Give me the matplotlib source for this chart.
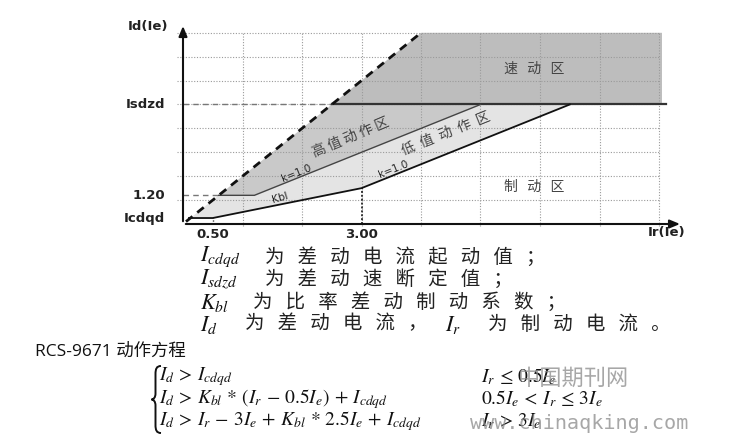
import matplotlib
matplotlib.use("Agg")
import matplotlib.pyplot as plt
from matplotlib.patches import Polygon, PathPatch
from matplotlib.path import Path

plt.rcParams['font.family'] = ['Noto Sans CJK SC', 'DejaVu Sans']
plt.rcParams['mathtext.fontset'] = 'stix'

# ---- characteristic values (in Ie) ----
ir_breaks = [0.5, 3.0]          # break points of the Kbl curve
icdqd = 0.25                    # pickup current
isdzd = 5.0                     # instantaneous setting
kbl = 0.5                       # ratio restraint coefficient
k_high = 1.0                    # slope after 3 Ie
high_level = 1.2                # high-value pickup level
high_break = 1.2                # start of high-value slope
diag_slope = 2.0                # dashed boundary slope
x_max, y_max = 8.0, 8.0

y_tick_vals = [isdzd, high_level, icdqd]
y_tick_labels = ['Isdzd', '1.20', 'Icdqd']
x_tick_vals = [0.5, 3.0]
x_tick_labels = ['0.50', '3.00']

legend_lines = [
    (r'$I_{cdqd}$', '为差动电流起动值；'),
    (r'$I_{sdzd}$', '为差动速断定值；'),
    (r'$K_{bl}$', '为比率差动制动系数；'),
]
eq_left = [r'$I_d\,>\,I_{cdqd}$',
           r'$I_d\,>\,K_{bl}\,*\,(I_r\,-\,0.5I_e)\,+\,I_{cdqd}$',
           r'$I_d\,>\,I_r\,-\,3I_e\,+\,K_{bl}\,*\,2.5I_e\,+\,I_{cdqd}$']
eq_right = [r'$I_r\,\leq\,0.5I_e$',
            r'$0.5I_e\,<\,I_r\,\leq\,3I_e$',
            r'$I_r\,>\,3I_e$']

W, H = 743, 436
fig = plt.figure(figsize=(W / 100, H / 100), dpi=100)
px_x, px_y = 59.5, 23.9
x0_px, y0_px = 183, 224
xl, yl = 8.4, 8.4
ax = fig.add_axes([x0_px / W, (H - y0_px) / H, xl * px_x / W, yl * px_y / H])
ax.set_xlim(0, xl)
ax.set_ylim(0, yl)
ax.set_axis_off()

def sp(s, n=3):
    return (' ' * n).join(s)

# derived points
x_lo_end = ir_breaks[1] + (isdzd - (icdqd + kbl * (ir_breaks[1] - ir_breaks[0]))) / k_high
y_b = icdqd + kbl * (ir_breaks[1] - ir_breaks[0])
x_diag_top = y_max / diag_slope
x_diag_sd = isdzd / diag_slope
x_diag_hl = high_level / diag_slope
x_diag_cd = icdqd / diag_slope
x_hi_end = isdzd  # slope 1 through origin
xr = x_max + 0.05

# fills
ax.add_patch(Polygon([(x_diag_sd, isdzd), (x_diag_top, y_max), (xr, y_max), (xr, isdzd)],
                     closed=True, fc='#bdbdbd', ec='none', zorder=1))
ax.add_patch(Polygon([(x_diag_hl, high_level), (high_break, high_level), (x_hi_end, isdzd),
                      (x_diag_sd, isdzd)], closed=True, fc='#c9c9c9', ec='none', zorder=1))
ax.add_patch(Polygon([(x_diag_cd, icdqd), (x_diag_hl, high_level), (high_break, high_level),
                      (x_hi_end, isdzd), (x_lo_end, isdzd), (ir_breaks[1], y_b),
                      (ir_breaks[0], icdqd)], closed=True, fc='#e4e4e4', ec='none', zorder=1))

# grid
for gx in range(1, int(x_max) + 1):
    ax.plot([gx, gx], [-0.1, y_max], color='#9a9a9a', lw=0.8, ls=(0, (1, 1.5)), zorder=2, clip_on=False)
for gy in range(1, int(y_max) + 1):
    ax.plot([-0.1, x_max], [gy, gy], color='#9a9a9a', lw=0.8, ls=(0, (1, 1.5)), zorder=2, clip_on=False)

# reference dashed lines
ax.plot([0, x_diag_sd], [isdzd, isdzd], color='#777777', lw=1.0, ls=(0, (4, 3)), zorder=3)
ax.plot([0, x_diag_hl], [high_level, high_level], color='#777777', lw=1.0, ls=(0, (4, 3)), zorder=3)
ax.plot([ir_breaks[0], ir_breaks[0]], [0, icdqd], color='#444444', lw=1.0, ls=(0, (1, 1)), zorder=3)
ax.plot([ir_breaks[1], ir_breaks[1]], [0, y_b], color='#333333', lw=1.4, ls=(0, (1, 1)), zorder=3)

# characteristic lines
ax.plot([x_diag_sd, x_max + 0.12], [isdzd, isdzd], color='#333333', lw=1.6, zorder=4)
ax.plot([x_diag_hl, high_break, x_hi_end], [high_level, high_level, isdzd], color='#444444', lw=1.0, zorder=4)
ax.plot([0.1, ir_breaks[0], ir_breaks[1], x_lo_end], [icdqd, icdqd, y_b, isdzd],
        color='#111111', lw=1.3, zorder=4)
ax.plot([0.05, x_diag_top], [0.1, y_max], color='#111111', lw=2.0, ls=(0, (3, 2.2)), zorder=5)

# axes with arrows
ax.annotate('', xy=(0, yl), xytext=(0, 0),
            arrowprops=dict(arrowstyle='-|>,head_width=0.25,head_length=0.6', color='#111111', lw=1.5),
            zorder=6)
ax.annotate('', xy=(xl, 0), xytext=(0, 0),
            arrowprops=dict(arrowstyle='-|>,head_width=0.25,head_length=0.6', color='#111111', lw=1.5),
            zorder=6)

lab_kw = dict(fontsize=9.5, color='#222222', family='DejaVu Sans', fontweight='bold')
for v, t in zip(y_tick_vals, y_tick_labels):
    ax.text(-0.3, v, t, ha='right', va='center', **lab_kw)
for v, t in zip(x_tick_vals, x_tick_labels):
    ax.text(v, -0.42, t, ha='center', va='center', **lab_kw)
ax.text(-0.25, 8.28, 'Id(Ie)', ha='right', va='center', **lab_kw)
ax.text(8.12, -0.36, 'Ir(Ie)', ha='center', va='center', **lab_kw)

zone_kw = dict(fontsize=10, color='#444444', ha='center', va='center', zorder=7)
ax.text(5.9, 6.49, sp('速动区', 3), **zone_kw)
ax.text(5.9, 1.55, sp('制动区', 3), **zone_kw)
ax.text(2.82, 3.64, sp('高值动作区', 1), rotation=23, rotation_mode='anchor', **zone_kw)
ax.text(4.42, 3.8, sp('低值动作区', 2), rotation=22, rotation_mode='anchor', **zone_kw)
small_kw = dict(fontsize=7.5, color='#222222', ha='center', va='center', family='DejaVu Sans', zorder=7)
ax.text(1.9, 2.13, 'k=1.0', rotation=22, rotation_mode='anchor', **small_kw)
ax.text(3.53, 2.3, 'k=1.0', rotation=22, rotation_mode='anchor', **small_kw)
ax.text(1.63, 1.09, 'Kbl', rotation=16, rotation_mode='anchor', **small_kw)

# ---- text block below ----
def fx(px):
    return px / W

def fy(py):
    return 1 - py / H

cn_kw = dict(fontsize=14, color='#222222', va='center')
math_kw = dict(fontsize=16, color='#111111', va='center')
rows_y = [257, 279, 302]
cn_x = [265, 265, 253]
for (m, c), yy, cx in zip(legend_lines, rows_y, cn_x):
    fig.text(fx(200), fy(yy), m, **math_kw)
    fig.text(fx(cx), fy(yy), sp(c, 3), **cn_kw)
fig.text(fx(200), fy(324), r'$I_d$', **math_kw)
fig.text(fx(245), fy(324), sp('为差动电流，', 3), **cn_kw)
fig.text(fx(445), fy(324), r'$I_r$', **math_kw)
fig.text(fx(488), fy(324), sp('为制动电流。', 3), **cn_kw)

fig.text(fx(35), fy(352), 'RCS-9671 动作方程', fontsize=12.5, color='#111111', va='center',
         family=['Open Sans', 'Noto Sans CJK SC'])

# curly brace (pixel coordinates converted to figure coords)
bx_tip, bx_mid, bx_end = 151.5, 155.5, 161.0
by_top, by_mid, by_bot = 366.0, 399.5, 433.0
brace_pts = [
    (bx_end, by_top), (bx_mid + 1, by_top), (bx_mid, by_top + 3), (bx_mid, by_top + 8),
    (bx_mid, by_mid - 6),
    (bx_mid, by_mid - 2), (bx_tip + 2, by_mid), (bx_tip, by_mid),
    (bx_tip + 2, by_mid), (bx_mid, by_mid + 2), (bx_mid, by_mid + 6),
    (bx_mid, by_bot - 8),
    (bx_mid, by_bot - 3), (bx_mid + 1, by_bot), (bx_end, by_bot),
]
codes = [Path.MOVETO, Path.CURVE4, Path.CURVE4, Path.CURVE4, Path.LINETO,
         Path.CURVE4, Path.CURVE4, Path.CURVE4, Path.CURVE4, Path.CURVE4, Path.CURVE4,
         Path.LINETO, Path.CURVE4, Path.CURVE4, Path.CURVE4]
brace = Path([(fx(px), fy(py)) for px, py in brace_pts], codes)
fig.patches.append(PathPatch(brace, transform=fig.transFigure, fc='none', ec='#111111', lw=1.4))

eq_y = [377, 399, 421]
for l, r, yy in zip(eq_left, eq_right, eq_y):
    fig.text(fx(159), fy(yy), l, fontsize=14, color='#111111', va='center')
    fig.text(fx(481), fy(yy), r, fontsize=14, color='#111111', va='center')

# watermark
fig.text(fx(518), fy(378), '中国期刊网', fontsize=16, color='#8a8a8a', alpha=0.75, va='center')
fig.text(fx(470), fy(423), 'www.chinaqking.com', fontsize=14.5, color='#8a8a8a', alpha=0.75,
         va='center', family='DejaVu Sans Mono')

fig.savefig('out.png', dpi=100)
